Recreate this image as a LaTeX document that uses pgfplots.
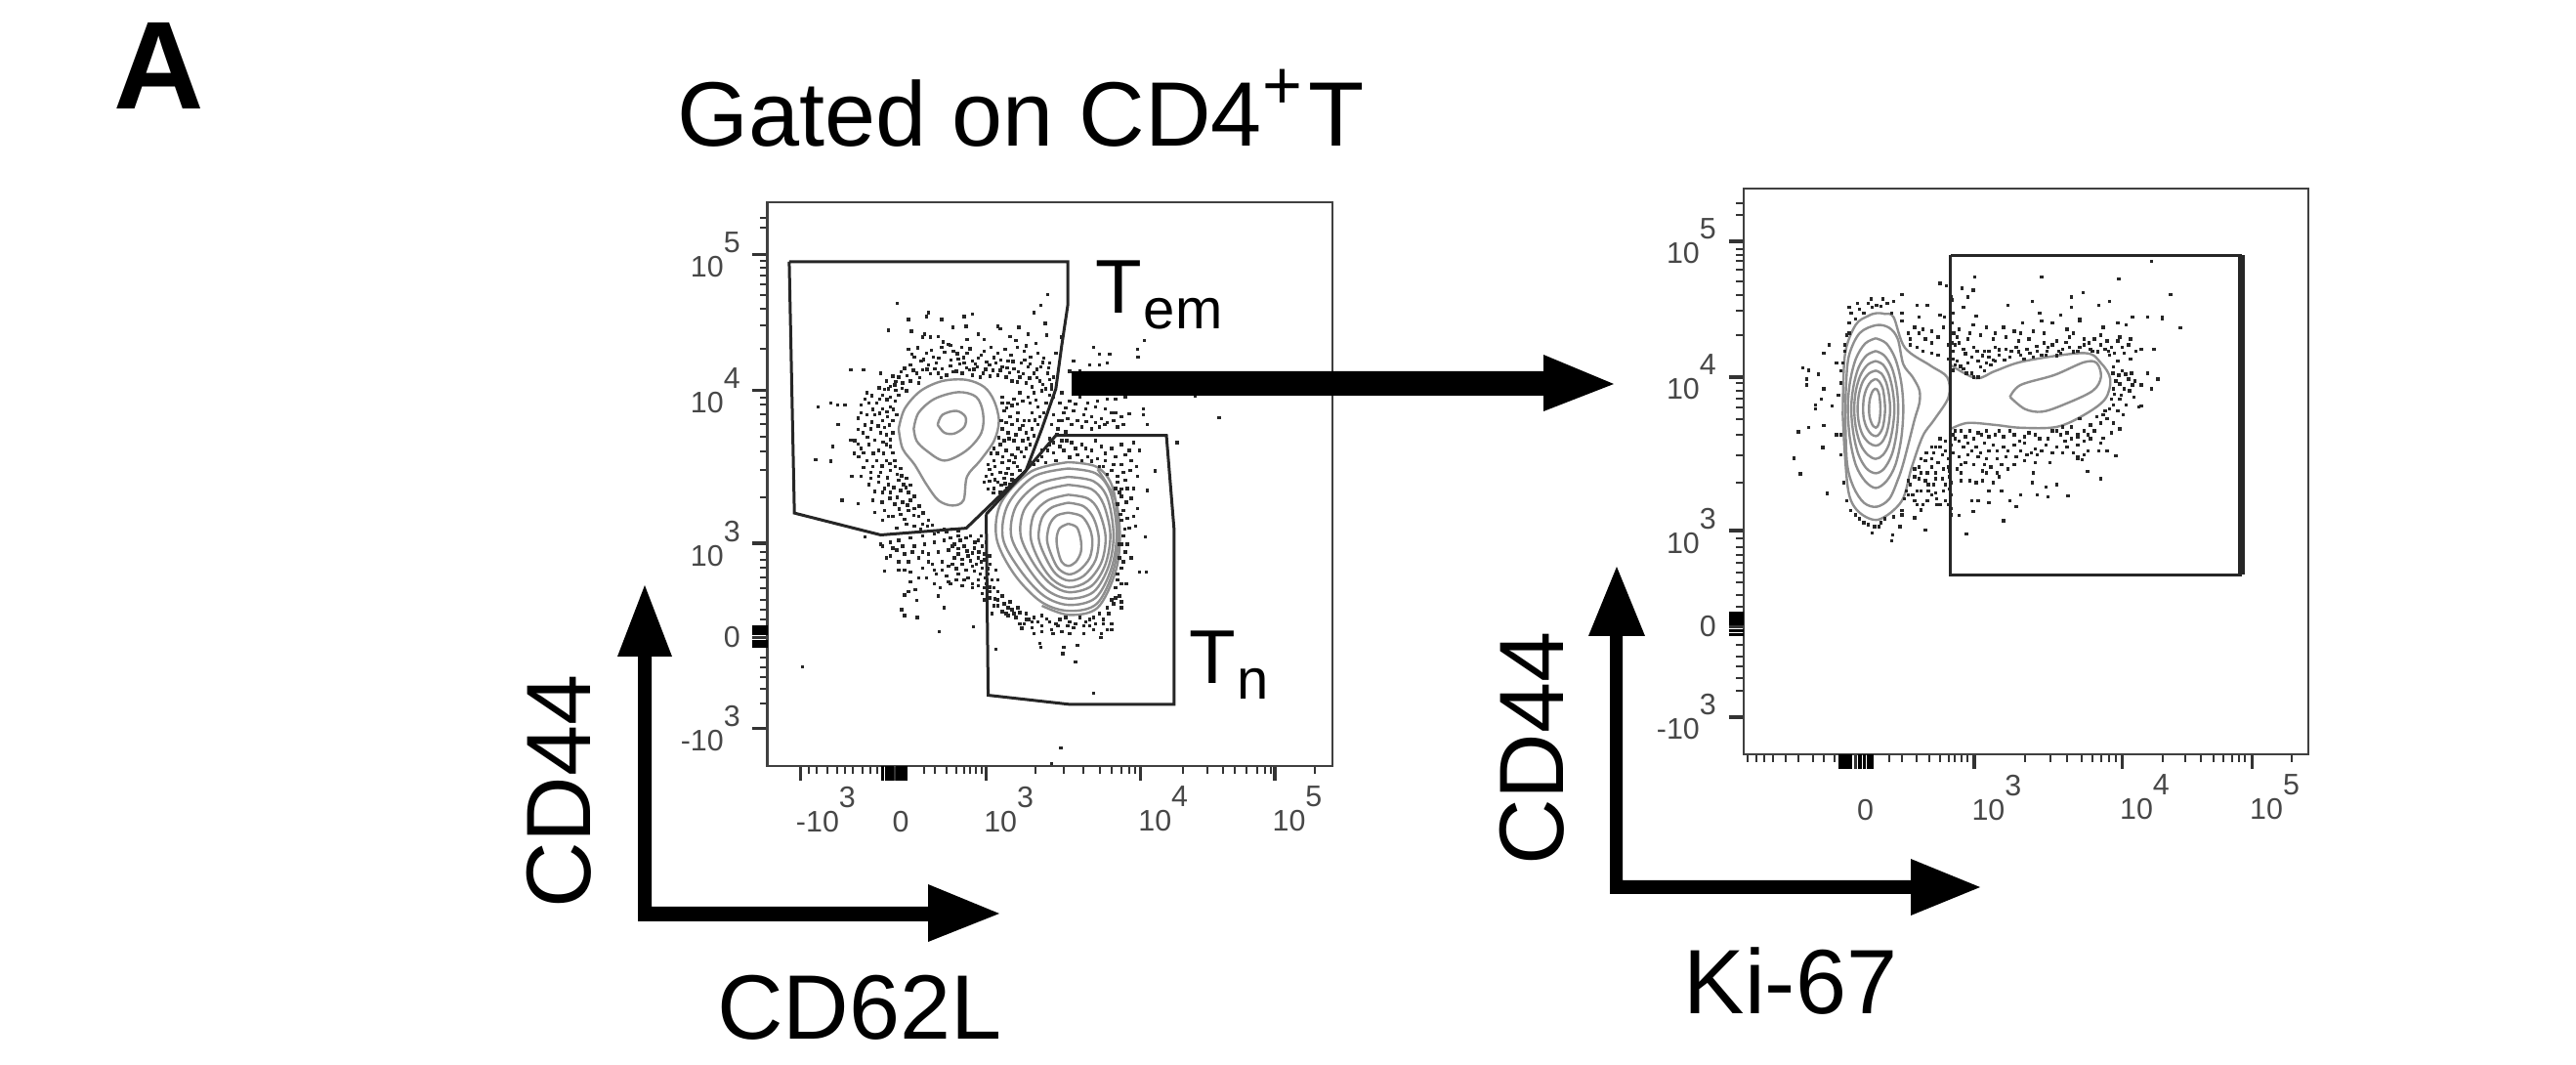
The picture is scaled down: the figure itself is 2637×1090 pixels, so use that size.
\documentclass[border=0pt]{standalone}
\usepackage{fontspec}
\setmainfont{Liberation Sans}
\usepackage{pgfplots}
\pgfplotsset{compat=1.18}

% one picture unit is one pixel of the reference
% axis values are display channels of the cytometer plot
\newcommand{\tl}[1]{10\raisebox{6.25pt}{#1}}
\newcommand{\bigtxt}{\fontsize{23.4}{28}\selectfont}
\colorlet{contour}{black!44}
\colorlet{gate}{black!85}

\pgfplotsset{
  flow/.style={
    scale only axis, y dir=reverse,
    axis line style={black!75, line width=0.55pt},
    tick align=outside, xtick pos=lower, ytick pos=left,
    major tick length=3.75pt, minor tick length=1.9pt,
    tick style={black!80, line width=0.5pt},
    major tick style={line width=0.9pt},
    tick label style={font=\fontsize{7.6}{9}\selectfont, text=black!72},
    xticklabel style={anchor=north west, inner sep=0pt, xshift=-0.75pt, yshift=-1.25pt},
    yticklabel style={anchor=east, inner sep=3pt},
    extra tick style={major tick length=3.75pt, tick style={black, line width=1.1pt}},
    extra x tick labels={}, extra y tick labels={},
  },
  dots/.style={only marks, mark=square*, mark size=0.23pt, black!85,
    mark options={draw=none, fill=black!85}},
  ring/.style={contour, line width=0.6pt, smooth, tension=0.55, no marks},
  gateline/.style={gate, line width=0.75pt, no marks},
}

\begin{document}
\begin{tikzpicture}[x=0.25pt, y=-0.25pt]
\path[use as bounding box] (0,0) rectangle (2637,1090);
\coordinate (left panel) at (785.5,784);
\coordinate (right panel) at (1784.6,772);

\begin{axis}[flow, at={(left panel)}, anchor=south west,
  width=144.6pt, height=144.3pt,
  xmin=110, xmax=1530, ymin=40, ymax=1458,
  xtick={193,430,660,1048,1385},
  xticklabels={{\hspace{2pt}\llap{-}\tl{3}},{0\vphantom{\tl{0}}},{\tl{3}},{\tl{4}},{\tl{5}}},
  minor xtick={215,235,260,285,305,325,350,370,385,505,530,560,585,605,620,635,650,785,855,905,945,975,1000,1020,1035,1155,1215,1255,1285,1315,1340,1360,1375,1485},
  extra x ticks={400,410,418,424,438,447,457},
  ytick={172,513,898,1135,1363},
  yticklabels={{\tl{5}},{\tl{4}},{\tl{3}},{0\hspace{4.2pt}},{\llap{-}\tl{3}}},
  minor ytick={80,105,188,205,225,248,275,308,350,410,531,550,573,598,629,666,714,782,920,940,960,985,1010,1040,1065,1090,1185,1210,1235,1265,1300},
  extra y ticks={1108,1116,1124,1146,1156},
]
% events around the two populations
\addplot[dots] coordinates {
(437,295)(515,318)(510,328)(465,335)(548,335)(625,322)(605,328)(610,352)(577,355)(415,362)(690,352)(695,358)(742,355)(765,372)(780,318)(798,300)(815,272)(808,345)(505,372)(520,380)(540,378)(472,365)(500,380)(552,392)(570,400)(612,385)(640,372)(655,385)(720,378)(735,388)(812,375)(850,380)(785,395)(760,402)
(465,410)(510,420)(528,430)(548,405)(565,398)(578,415)(598,405)(612,420)(625,440)(640,432)(655,415)(672,405)(690,420)(708,410)(722,425)(738,405)(755,415)(772,430)(790,420)(805,432)(820,445)(835,420)(480,430)(497,440)(515,450)(535,445)(550,460)(570,452)(590,435)(605,445)(618,462)(638,455)(652,470)(668,450)(685,445)(700,455)(715,440)(730,460)(748,445)(765,455)(780,470)(798,455)(815,470)(830,480)(455,458)(470,450)(485,470)(500,462)(520,472)(540,470)(560,475)(585,465)(600,470)(625,475)(645,480)(670,478)(690,475)(710,480)(725,490)(745,480)(760,495)(775,505)(795,490)(810,510)(825,500)(440,480)(425,478)(430,500)(450,495)(470,490)(490,495)(415,510)(400,525)(420,530)(440,525)(460,515)(320,462)(352,462)(395,470)(410,490)
(360,520)(345,550)(365,545)(385,545)(400,560)(420,555)(412,580)(425,590)(400,590)(380,575)(360,575)(345,570)(237,555)(270,545)(287,550)(305,550)(288,600)(275,655)(232,688)(270,692)(322,730)(330,640)(350,620)(370,610)(395,620)(410,625)(425,620)(320,638)(345,660)(365,650)(390,665)(410,650)(425,670)(340,680)(360,690)(385,690)(410,690)(430,690)(345,730)(370,720)(395,720)(420,715)(445,710)(365,750)(390,745)(415,750)(440,740)(460,735)(298,790)(338,798)(375,790)(400,770)(420,770)(445,765)(465,770)(380,820)(405,815)(430,800)(450,795)(470,790)(400,840)(425,830)(445,825)(465,815)(480,810)(490,830)(435,860)(460,850)(480,855)(500,850)(515,840)(355,882)(395,900)
(700,530)(715,545)(730,535)(745,520)(765,530)(780,520)(800,515)(820,525)(705,565)(720,580)(740,570)(755,590)(775,570)(790,555)(805,570)(700,610)(715,620)(730,640)(745,610)(760,620)(775,610)(790,600)(680,660)(695,650)(710,665)(725,675)(740,660)(755,680)(770,650)(665,700)(680,690)(700,695)(715,710)(730,695)(745,715)(660,730)(675,725)(690,745)(705,735)(720,750)(680,760)(695,770)(735,740)
(880,440)(930,405)(945,422)(970,422)(1040,410)(1042,430)(1058,388)(870,465)(895,465)(920,450)(945,450)(965,445)(850,520)(870,540)(895,530)(915,545)(940,540)(965,535)(985,535)(1010,530)(855,570)(880,565)(905,575)(925,580)(950,585)(975,570)(1000,580)(1020,572)(1055,560)(1055,575)(1245,582)(1185,528)(1065,600)(850,590)(875,600)(900,605)(925,610)(945,605)(965,595)(990,605)(840,610)(860,618)(1140,645)
(850,640)(875,645)(900,650)(925,665)(950,655)(975,660)(1000,650)(1020,665)(1045,665)(820,650)(830,670)(855,665)(890,675)(915,680)(940,685)(800,680)(780,700)(810,695)(835,690)(960,690)(980,700)(1000,700)(1025,690)(1040,730)(1085,716)(945,705)(965,725)(990,730)(1010,740)(1030,760)(1065,765)(985,760)(1000,780)(1025,785)(990,800)(1005,815)(1040,810)(1000,840)(1020,860)(1035,855)(1005,880)(1060,882)(995,900)(1010,920)(1025,935)(1000,960)(1045,970)(1062,970)(990,990)(985,1010)(995,1030)(980,1050)(1000,1060)
(700,1030)(720,1045)(740,1060)(760,1075)(780,1085)(800,1080)(820,1095)(845,1090)(870,1095)(895,1085)(920,1090)(945,1075)(965,1060)(975,1040)(690,1055)(710,1075)(735,1085)(755,1100)(775,1110)(800,1105)(825,1115)(850,1120)(880,1110)(905,1105)(930,1115)(950,1125)(975,1100)(745,1100)(795,1150)(798,1160)(855,1160)(853,1175)(890,1155)(948,1135)(685,1165)(885,1197)(930,1275)(848,1413)(825,1452)(198,1208)(628,1108)(542,1120)
(400,905)(420,895)(440,890)(470,885)(500,880)(530,875)(560,870)(590,880)(620,880)(640,890)(410,935)(435,915)(455,925)(480,905)(505,900)(530,895)(555,890)(580,900)(605,905)(630,910)(650,905)(405,968)(440,945)(465,945)(490,935)(515,925)(540,920)(565,915)(590,925)(615,930)(640,935)(655,925)(670,950)(685,965)(440,965)(455,965)(500,960)(525,950)(550,945)(575,950)(600,950)(625,955)(650,960)(665,975)(690,990)(510,985)(535,975)(560,980)(590,975)(615,985)(640,990)(660,1000)(680,1010)(470,995)(465,1020)(455,1028)(482,1015)(485,1042)(545,1010)(570,1000)(600,1005)(625,1010)(650,1025)(670,1035)(540,1030)(555,1060)(448,1065)(455,1080)(487,1085)(680,1055)(700,1070)(715,1080)
(473,423)(488,407)(503,436)(522,412)(541,432)(556,418)(571,437)(587,421)(603,431)(619,409)(633,447)(647,425)(661,442)(679,431)(697,437)(713,457)(727,441)(741,467)(757,437)(771,447)(787,461)(803,443)(819,487)(461,477)(477,463)(493,481)(511,461)(531,459)(547,481)(577,467)(593,447)(611,457)(629,461)(659,461)(677,463)(695,463)(719,469)(739,493)(753,471)(769,483)(787,481)(803,499)(817,457)(447,467)(433,491)(449,509)(433,513)(419,503)(405,511)(391,507)(411,537)(431,541)(393,535)(427,561)(411,567)(435,575)(393,571)(375,561)(355,535)(339,583)(373,527)
(417,601)(405,607)(389,603)(372,593)(355,601)(338,612)(419,637)(401,643)(380,639)(362,631)(338,648)(420,655)(402,672)(376,672)(352,670)(328,672)(432,705)(418,698)(398,704)(375,705)(352,708)(436,725)(412,733)(390,730)(370,735)(448,728)(452,750)(428,758)(405,760)(380,768)(458,758)(470,752)(437,782)(418,785)(398,795)(480,780)(462,802)(442,812)(415,830)(492,805)(478,828)(455,838)(502,822)(512,855)(495,862)(525,852)(540,868)(555,862)(575,862)(590,867)
(700,545)(712,558)(725,552)(738,548)(752,540)(770,545)(785,538)(810,545)(825,510)(698,590)(710,595)(725,600)(738,588)(752,602)(768,590)(782,588)(795,580)(812,545)(692,632)(705,640)(718,635)(735,625)(752,640)(765,635)(780,628)(672,672)(688,672)(702,680)(718,690)(733,682)(748,668)(760,660)(668,712)(682,705)(695,720)(710,722)(725,725)(738,705)(655,745)(668,742)(682,738)(698,752)(712,760)(725,738)(665,762)(678,772)(708,748)
(830,530)(845,545)(860,558)(885,548)(910,560)(935,555)(960,560)(985,570)(830,575)(842,590)(865,585)(890,590)(912,592)(935,595)(958,600)(980,590)(1005,600)(825,600)(838,625)(820,635)
(845,655)(862,640)(885,660)(910,660)(935,640)(960,672)(985,680)(1010,675)(1030,645)(830,645)(815,665)(870,682)(900,690)(925,692)(800,665)(790,690)(770,690)(955,705)(975,715)(1005,720)(1022,715)(1038,705)(990,745)(1015,760)(1000,762)(995,770)(1012,795)(998,825)(1015,835)(1030,830)(1008,862)(1000,900)(1015,900)(995,935)(1005,945)(990,975)(1000,1000)(1012,1000)(985,1035)(968,1075)(955,1090)(1000,1045)
(690,1040)(705,1050)(725,1065)(745,1072)(768,1090)(790,1095)(812,1088)(835,1100)(860,1085)(885,1100)(910,1095)(930,1085)(955,1100)(775,1095)(730,1075)(715,1060)(760,1090)(800,1120)(840,1105)(865,1105)(920,1105)(935,1100)(965,1115)(975,1115)(780,1125)(750,1112)(828,1125)(870,1125)(905,1125)
(570,885)(595,890)(610,885)(632,895)(648,880)(660,895)(575,905)(590,912)(612,918)(625,922)(642,920)(655,940)(668,930)(580,935)(600,938)(620,942)(635,950)(648,945)(665,962)(565,955)(585,962)(610,965)(630,968)(645,975)(658,985)(675,990)(670,1008)(655,1010)(640,1005)(625,1000)(605,990)(585,990)(565,995)(550,965)(530,965)(515,945)(500,920)(475,920)(450,905)(425,910)(420,930)(470,970)(490,985)(530,1000)(690,1020)(668,1020)(655,1040)(662,1058)(675,1075)(682,1038)
};
% upper population contours
\addplot[ring] coordinates {(440,610)(455,560)(495,515)(550,490)(610,487)(655,505)(680,540)(692,590)(680,640)(645,690)(612,730)(603,790)(575,803)(540,790)(510,750)(480,700)(450,660)(440,610)};
\addplot[ring] coordinates {(478,610)(490,570)(530,535)(590,518)(635,530)(652,570)(648,620)(610,665)(555,690)(510,665)(485,640)(478,610)};
\addplot[ring] coordinates {(538,600)(550,575)(585,565)(608,580)(605,605)(580,622)(555,620)(538,600)};
% lower population contours
\addplot[ring] coordinates {(866,849)(888,858)(898,890)(898,920)(885,945)(866,955)(850,945)(840,915)(837,885)(845,860)(866,849)};
\addplot[ring] coordinates {(866,821)(900,830)(920,860)(927,895)(920,935)(895,965)(868,976)(842,962)(825,930)(813,890)(820,850)(838,828)(866,821)};
\addplot[ring] coordinates {(866,796)(905,805)(930,835)(943,885)(935,940)(905,980)(868,992)(835,975)(810,935)(792,885)(800,835)(825,808)(866,796)};
\addplot[ring] coordinates {(866,776)(915,785)(942,815)(960,880)(950,945)(915,993)(868,1009)(828,990)(795,945)(772,885)(780,825)(815,790)(866,776)};
\addplot[ring] coordinates {(866,751)(925,762)(955,800)(972,875)(960,950)(925,1005)(868,1021)(822,1000)(780,950)(747,880)(755,815)(800,768)(866,751)};
\addplot[ring] coordinates {(866,731)(930,742)(965,785)(980,875)(968,955)(930,1020)(868,1037)(812,1015)(762,955)(723,880)(735,805)(790,750)(866,731)};
\addplot[ring] coordinates {(866,710)(935,722)(972,770)(988,870)(975,960)(935,1035)(868,1053)(805,1030)(745,965)(702,885)(715,800)(780,730)(866,710)};
\addplot[ring] coordinates {(866,694)(938,706)(978,758)(992,870)(980,965)(938,1050)(868,1068)(798,1045)(730,975)(686,885)(698,795)(772,718)(866,694)};
\addplot[ring] coordinates {(940,712)(985,790)(996,880)(985,970)(940,1060)(868,1078)(800,1055)};
% gates
\addplot[gateline] coordinates {(165,190)(865,190)(865,300)(850,400)(835,510)(800,610)(760,715)(610,860)(395,877)(178,822)(165,190)};
\addplot[gateline] coordinates {(660,825)(760,715)(835,627)(1113,627)(1132,860)(1132,1303)(870,1303)(665,1280)(660,825)};
\end{axis}

\begin{axis}[flow, at={(right panel)}, anchor=south west,
  width=144.6pt, height=144.75pt,
  xmin=195, xmax=1530, ymin=33, ymax=1450,
  xtick={460,740,1090,1397},
  xticklabels={{\hspace{1pt}0\vphantom{\tl{0}}},{\tl{3}},{\tl{4}},{\tl{5}}},
  minor xtick={205,225,245,265,295,325,360,385,410,540,570,605,635,660,680,695,710,725,860,920,960,995,1020,1040,1060,1075,1185,1240,1275,1305,1330,1350,1365,1380,1490},
  extra x ticks={423,431,440,449,470,481,490,498},
  ytick={165,505,890,1130,1357},
  yticklabels={{\tl{5}},{\tl{4}},{\tl{3}},{0\hspace{4.2pt}},{\llap{-}\tl{3}}},
  minor ytick={70,100,185,200,215,235,265,300,340,400,520,540,560,580,610,650,700,770,910,930,950,970,995,1020,1050,1080,1175,1205,1230,1260,1290},
  extra y ticks={1098,1106,1114,1122,1140,1150},
]
\addplot[dots] coordinates {
(1160,215)(900,255)(742,255)(1082,260)(660,270)(675,277)(712,283)(738,288)(685,305)(725,305)(1205,298)(998,293)(970,305)(878,315)(820,325)(715,330)(605,325)(630,325)(570,298)(550,315)(525,310)(497,310)(465,320)(445,330)(1035,325)(1060,315)(970,330)(660,350)(670,355)(745,352)(1115,355)(1150,355)(1185,355)(1228,382)(1185,360)(895,345)(945,350)(990,360)(900,365)(855,370)(610,355)(570,345)(600,380)(620,385)(640,390)(655,405)(640,420)(610,395)(625,410)
(688,370)(705,385)(738,375)(770,380)(810,380)(850,395)(880,390)(925,370)(960,385)(990,365)(1045,380)(1080,370)(1100,375)
(700,405)(725,410)(755,400)(785,410)(815,405)(845,415)(870,410)(905,420)(935,415)(965,405)(1000,410)(1025,410)(1055,415)(1085,405)(1110,410)
(690,440)(715,435)(740,430)(765,440)(790,430)(815,435)(840,430)(865,435)(890,440)(915,430)(940,440)(965,430)(990,430)(1015,435)(1040,425)(1065,430)(1090,430)(1135,435)(1165,435)
(700,465)(725,470)(750,465)(775,455)(800,450)(825,455)(850,450)(880,455)(910,450)(945,445)(985,440)(1020,440)(1060,450)(1080,465)(1110,460)
(715,485)(735,495)(750,505)(765,490)(780,475)(690,460)
(1070,480)(1090,490)(1105,510)(1075,515)(1070,535)(1095,535)(1115,525)(1150,495)(1175,510)(1160,535)(1130,580)(1085,560)(1065,560)(1100,575)(1080,590)(1060,585)(1045,600)(1030,605)(1085,635)(1065,645)(1045,658)(1015,625)(990,610)(1000,640)(970,630)(950,630)
(690,650)(710,640)(730,640)(750,645)(770,640)(790,650)(810,655)(835,650)(860,655)(885,650)(915,660)(945,650)(970,660)(1000,665)
(685,675)(705,665)(725,670)(745,680)(765,670)(785,675)(810,680)(835,675)(860,670)(885,685)(910,675)(935,680)(960,680)(985,675)(1010,690)(1035,690)(1055,690)(1075,702)
(650,680)(665,700)(640,710)(625,715)(610,730)(630,745)(655,720)(680,710)(710,725)(740,725)(765,725)(795,710)(815,705)(840,705)(865,700)(890,700)(920,720)(950,695)(985,710)(1008,742)(1040,760)
(590,775)(605,790)(625,765)(645,775)(665,760)(685,770)(710,745)(745,770)(770,745)(785,770)(820,735)(880,745)(878,770)(910,780)(935,775)
(585,800)(600,815)(620,825)(640,800)(660,825)(685,800)(685,835)(705,852)(735,815)(750,815)(775,820)(805,790)(825,815)(850,800)(890,800)(915,805)(962,802)(840,830)(810,865)(738,842)(722,898)(625,888)(600,858)(570,850)(565,880)(548,900)(545,915)(515,880)(500,895)(520,870)(480,870)(460,850)
(335,482)(350,488)(372,498)(345,510)(345,525)(398,425)(385,445)(415,470)(380,560)(385,535)(365,575)(405,578)(365,585)(325,642)(350,632)(385,627)(415,650)(383,682)(315,708)(330,748)(393,797)(425,700)(420,550)(435,425)(440,400)
(445,370)(460,360)(480,345)(500,330)(520,328)(545,345)(570,365)(585,395)(590,410)
(705,420)(720,447)(735,455)(748,440)(760,452)(775,440)(785,462)(800,437)(812,462)(828,440)(845,442)(858,460)(872,445)(888,428)(900,450)(912,440)(925,425)(935,452)(950,435)(958,418)(975,442)(1000,425)(1012,420)(1032,442)(1050,435)(1072,445)(1095,445)(1105,425)(1122,440)(1080,415)(1058,440)(1040,400)(975,395)(905,395)(835,390)(790,395)(730,395)(695,425)(695,475)(708,478)(722,495)(740,505)(755,480)(770,470)(790,465)(690,488)(688,420)(692,395)(690,345)(688,312)
(1068,495)(1082,500)(1098,498)(1112,495)(1120,515)(1085,522)(1108,540)(1072,548)(1088,550)(1118,555)(1135,525)(1050,590)(1070,575)(1092,600)(1055,610)(1040,620)(1070,620)(1025,640)(1010,650)(985,650)(960,645)(935,640)(1135,578)
(695,640)(720,655)(740,660)(758,650)(775,655)(800,640)(825,640)(848,665)(870,645)(895,660)(925,640)(955,665)(985,655)(1015,660)(1040,670)(695,660)(715,680)(735,690)(755,695)(775,690)(795,690)(820,690)(850,690)(875,695)(900,690)(925,695)(975,695)(1000,700)(690,695)(705,705)(725,700)(750,705)(770,710)(805,725)(835,725)(860,715)(885,720)(985,705)(995,712)
(660,660)(640,680)(628,695)(645,695)(660,680)(672,665)(672,690)(615,710)(600,735)(615,745)(640,730)(650,745)(668,735)(680,730)(600,755)(585,765)(610,760)(632,775)(650,760)(672,775)(682,755)(580,790)(595,800)(615,790)(632,790)(650,795)(668,790)(682,785)(605,825)(630,815)(652,810)(672,815)(615,838)(652,825)(680,825)(685,850)(683,740)(684,700)(684,660)
(700,735)(720,720)(760,740)(780,730)(795,745)(710,765)(730,765)(760,765)(775,790)(800,755)
(450,345)(470,335)(490,320)(510,325)(535,320)(445,395)(435,440)(430,470)(425,490)(425,520)(425,650)(432,770)(440,815)(448,840)(470,860)(490,875)(505,880)(530,860)(550,855)(570,840)(575,810)(590,425)(605,430)(620,440)(640,445)(655,450)(680,460)(680,425)(668,380)
};
% contours of the Ki-67 negative population
\addplot[ring] coordinates {(508,534)(512,538)(516,549)(518,566)(519,585)(518,603)(516,618)(512,629)(508,632)(502,628)(497,618)(493,603)(492,585)(493,566)(497,549)(502,538)(508,534)};
\addplot[ring] coordinates {(508,510)(516,516)(524,532)(528,556)(530,585)(528,611)(524,633)(516,648)(508,653)(497,648)(487,633)(480,611)(478,585)(480,556)(487,532)(497,516)(508,510)};
\addplot[ring] coordinates {(508,489)(521,496)(532,517)(539,549)(542,585)(539,620)(532,650)(521,670)(508,677)(492,670)(477,650)(468,620)(465,585)(468,549)(477,517)(492,496)(508,489)};
\addplot[ring] coordinates {(508,465)(525,474)(539,500)(548,539)(552,585)(548,632)(539,674)(525,700)(508,710)(489,700)(472,674)(461,632)(457,585)(461,539)(472,500)(489,474)(508,465)};
\addplot[ring] coordinates {(508,440)(528,451)(546,482)(557,530)(561,585)(557,646)(546,699)(528,734)(508,746)(486,734)(467,699)(455,646)(450,585)(455,530)(467,482)(486,451)(508,440)};
\addplot[ring] coordinates {(508,408)(533,421)(554,459)(568,518)(573,585)(568,660)(554,726)(533,766)(508,783)(483,766)(461,726)(447,660)(442,585)(447,518)(461,459)(483,421)(508,408)};
\addplot[ring] coordinates {(436,600)(438,520)(445,450)(470,395)(510,375)(540,382)(560,410)(573,473)(595,505)(611,538)(611,570)(600,610)(584,677)(572,725)(561,760)(540,810)(510,830)(480,820)(455,780)(440,720)(436,600)};
\addplot[ring] coordinates {(430,600)(435,450)(460,375)(490,352)(510,345)(530,347)(550,355)(577,432)(638,477)(677,506)(680,555)(646,612)(619,653)(592,734)(569,816)(515,862)(470,845)(445,800)(435,700)(430,600)};
% contours of the Ki-67 positive population
\addplot[ring] coordinates {(685,475)(745,508)(790,490)(860,465)(1000,445)(1040,470)(1062,510)(1050,560)(1000,600)(935,630)(850,632)(790,625)(725,620)(685,635)};
\addplot[ring] coordinates {(825,555)(850,525)(930,500)(1000,468)(1030,470)(1040,505)(1020,540)(950,575)(900,592)(860,585)(825,555)};
% gate
\addplot[gateline] coordinates {(685,200)(1370,200)(1370,1000)(685,1000)(685,200)};
\addplot[gate, line width=1.8pt, no marks] coordinates {(1372,200)(1372,1000)};
\end{axis}

% big arrows
\fill (1097,380) -- (1580,380) -- (1580,363) -- (1652,393) -- (1580,421) -- (1580,405) -- (1097,405) -- cycle;
\fill (653,943) -- (653,672) -- (632,672) -- (660,599) -- (688,672) -- (667,672) -- (667,928) -- (950,928) -- (950,905) -- (1023,935) -- (950,964) -- (950,943) -- cycle;
\fill (1648,915) -- (1648,651) -- (1626,651) -- (1655,580) -- (1684,651) -- (1661,651) -- (1661,901) -- (1956,901) -- (1956,879) -- (2027,908) -- (1956,937) -- (1956,915) -- cycle;

% text
\node[anchor=center, font=\bfseries\fontsize{32}{36}\selectfont] at (163,67) {A};
\node[anchor=base west, inner sep=0pt, font=\bigtxt] at (693,150) {Gated on CD4\raisebox{9.5pt}{\fontsize{17.5}{20}\selectfont +}\hspace{1.5pt}T};
\node[anchor=base west, inner sep=0pt, font=\fontsize{19.5}{23}\selectfont] at (1121,321) {T};
\node[anchor=base west, inner sep=0pt, font=\fontsize{14.5}{17}\selectfont] at (1170,337) {em};
\node[anchor=base west, inner sep=0pt, font=\fontsize{19.5}{23}\selectfont] at (1217,700) {T};
\node[anchor=base west, inner sep=0pt, font=\fontsize{14.5}{17}\selectfont] at (1266,716) {n};
\node[rotate=90, font=\bigtxt] at (572,810) {CD44};
\node[rotate=90, font=\bigtxt] at (1568,766) {CD44};
\node[anchor=base, inner sep=0pt, font=\bigtxt] at (880,1063) {CD62L};
\node[anchor=base, inner sep=0pt, font=\bigtxt] at (1833,1037) {Ki-67};
\end{tikzpicture}
\end{document}
